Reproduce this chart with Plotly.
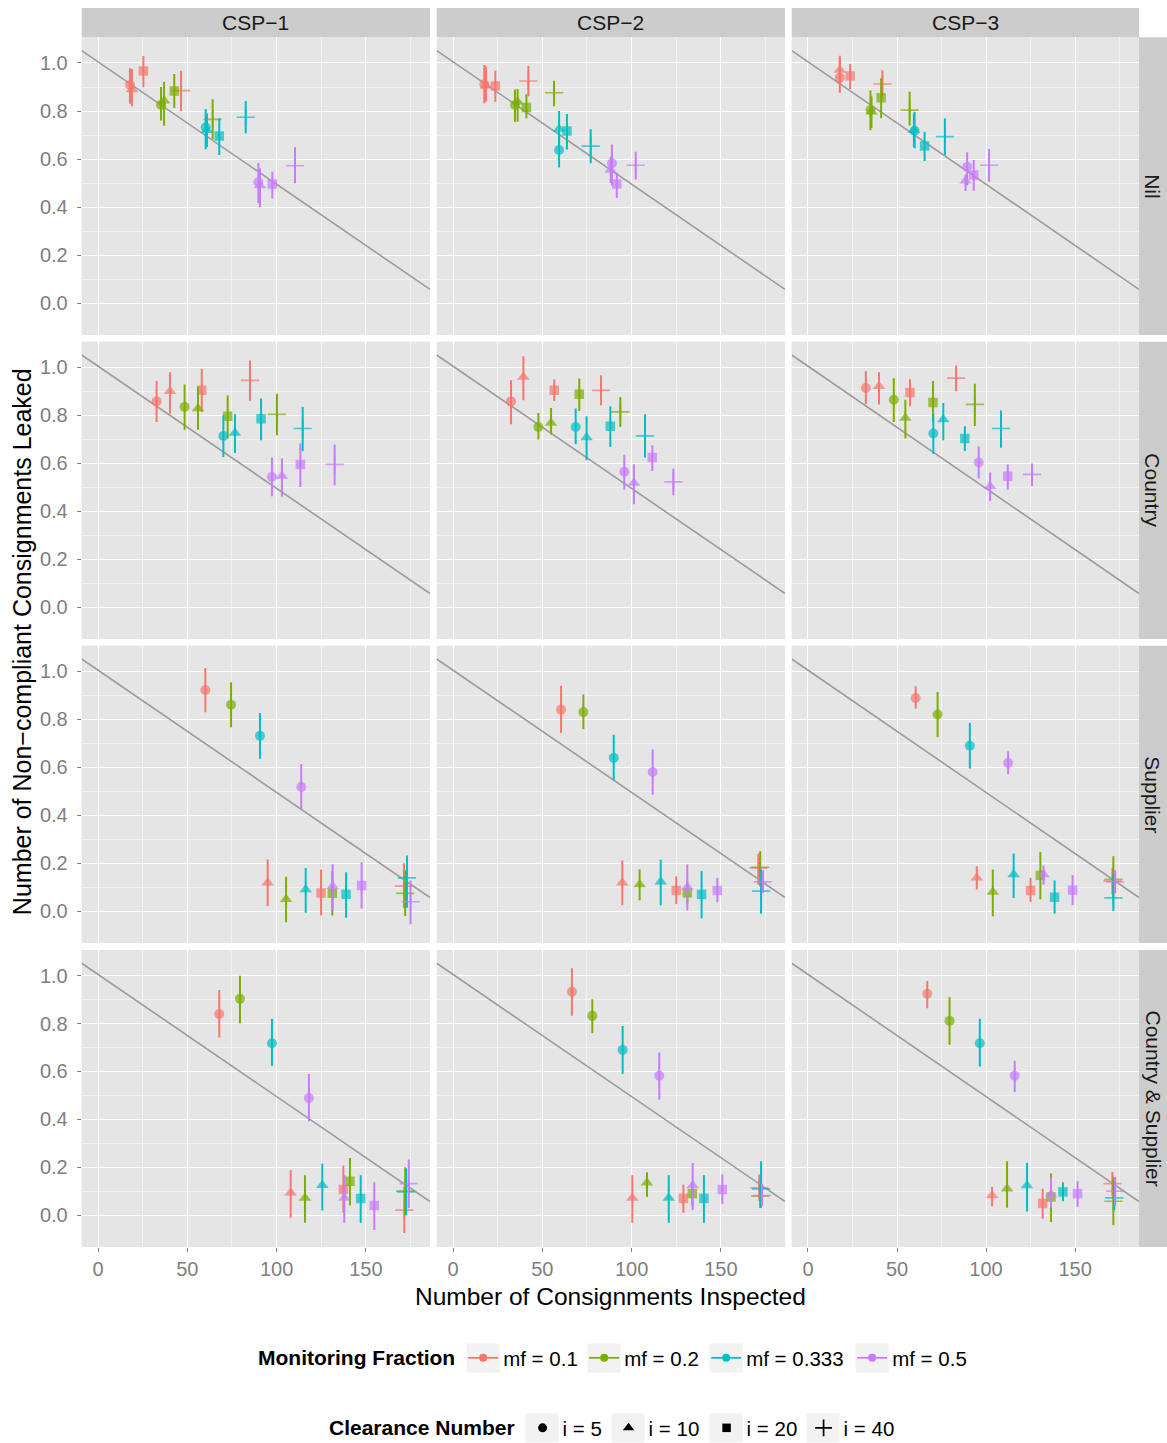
import plotly.graph_objects as go

W, H = 1167, 1443
FONT = "Liberation Sans, Arial, Helvetica, sans-serif"

# ---------------- labels / categories ----------------
CSP_LABELS = ["CSP\u22121", "CSP\u22122", "CSP\u22123"]
ROW_LABELS = ["Nil", "Country", "Supplier", "Country & Supplier"]
MF_LABELS = ["mf = 0.1", "mf = 0.2", "mf = 0.333", "mf = 0.5"]
I_LABELS = ["i = 5", "i = 10", "i = 20", "i = 40"]
MF_COLORS = ["#F8766D", "#7CAE00", "#00BFC4", "#C77CFF"]
I_SYMBOLS = ["circle", "triangle-up", "square", "cross-thin"]

X_TICKS = [0, 50, 100, 150]
X_MINOR = [25, 75, 125, 175]
Y_TICKS = [0.0, 0.2, 0.4, 0.6, 0.8, 1.0]
Y_TICK_TEXT = ["0.0", "0.2", "0.4", "0.6", "0.8", "1.0"]
Y_MINOR = [0.1, 0.3, 0.5, 0.7, 0.9]
X_RANGE = [-9.13, 185.9]
Y_RANGE = [-0.133, 1.107]

LINE_INTERCEPT = 1.005
LINE_SLOPE = -0.0051

# ---------------- data: order = mf(0.1,0.2,0.333,0.5) x i(5,10,20,40) ----------------
# Row "Nil"
nil_csp1_x = [17.9, 19.0, 25.4, 46.5, 35.3, 37.0, 42.7, 64.2, 60.3, 61.0, 67.9, 82.7, 89.8, 90.7, 97.6, 110.3]
nil_csp1_y = [0.908, 0.89, 0.967, 0.885, 0.825, 0.843, 0.883, 0.765, 0.732, 0.72, 0.696, 0.774, 0.503, 0.49, 0.496, 0.572]
nil_csp1_lo = [0.83, 0.82, 0.899, 0.80, 0.76, 0.739, 0.8125, 0.682, 0.641, 0.65, 0.617, 0.707, 0.417, 0.40, 0.436, 0.499]
nil_csp1_hi = [0.978, 0.975, 1.029, 0.968, 0.90, 0.922, 0.954, 0.849, 0.808, 0.79, 0.77, 0.842, 0.583, 0.56, 0.547, 0.649]

nil_csp2_x = [17.5, 18.5, 23.7, 42.2, 34.7, 36.2, 41.1, 56.6, 59.4, 59.4, 63.8, 77.1, 89.0, 88.3, 91.7, 102.3]
nil_csp2_y = [0.911, 0.905, 0.904, 0.925, 0.825, 0.839, 0.815, 0.876, 0.6375, 0.725, 0.717, 0.654, 0.582, 0.554, 0.496, 0.574]
nil_csp2_lo = [0.832, 0.84, 0.839, 0.86, 0.755, 0.755, 0.77, 0.82, 0.565, 0.658, 0.64, 0.582, 0.49, 0.50, 0.439, 0.515]
nil_csp2_hi = [0.992, 0.985, 0.968, 0.9875, 0.89, 0.892, 0.87, 0.926, 0.72, 0.80, 0.7875, 0.724, 0.66, 0.61, 0.543, 0.63]

nil_csp3_x = [17.9, 17.9, 23.7, 41.8, 35.1, 35.7, 41.1, 57.1, 59.9, 59.5, 65.5, 76.9, 89.4, 88.5, 93.1, 101.7]
nil_csp3_y = [0.939, 0.971, 0.946, 0.9125, 0.804, 0.797, 0.855, 0.804, 0.718, 0.72, 0.654, 0.693, 0.568, 0.51, 0.533, 0.574]
nil_csp3_lo = [0.876, 0.91, 0.892, 0.86, 0.72, 0.73, 0.77, 0.74, 0.645, 0.65, 0.592, 0.617, 0.49, 0.467, 0.468, 0.505]
nil_csp3_hi = [1.026, 1.03, 0.996, 0.97, 0.885, 0.86, 0.936, 0.88, 0.797, 0.79, 0.714, 0.77, 0.628, 0.535, 0.596, 0.642]

# Row "Country"
cty_csp1_x = [32.8, 40.3, 58.1, 85.1, 48.5, 56.0, 72.6, 100.2, 70.2, 76.7, 91.3, 114.6, 97.4, 103.0, 113.3, 132.5]
cty_csp1_y = [0.858, 0.90, 0.904, 0.946, 0.835, 0.828, 0.796, 0.804, 0.714, 0.726, 0.786, 0.745, 0.543, 0.547, 0.595, 0.595]
cty_csp1_lo = [0.772, 0.807, 0.814, 0.86, 0.74, 0.74, 0.703, 0.717, 0.626, 0.643, 0.696, 0.651, 0.4625, 0.46, 0.501, 0.508]
cty_csp1_hi = [0.943, 0.98, 0.994, 1.029, 0.928, 0.92, 0.883, 0.89, 0.80, 0.804, 0.87, 0.835, 0.624, 0.62, 0.682, 0.678]

cty_csp2_x = [32.5, 39.4, 56.7, 82.9, 47.8, 54.9, 70.7, 93.7, 68.7, 74.8, 88.1, 107.5, 95.9, 101.3, 111.6, 123.4]
cty_csp2_y = [0.858, 0.96, 0.904, 0.904, 0.751, 0.768, 0.8875, 0.814, 0.751, 0.707, 0.754, 0.714, 0.5646, 0.518, 0.624, 0.522]
cty_csp2_lo = [0.7625, 0.8625, 0.86, 0.842, 0.699, 0.72, 0.818, 0.751, 0.679, 0.6125, 0.668, 0.624, 0.49, 0.429, 0.568, 0.467]
cty_csp2_hi = [0.946, 1.046, 0.949, 0.967, 0.81, 0.83, 0.953, 0.876, 0.828, 0.796, 0.8375, 0.804, 0.636, 0.596, 0.675, 0.578]

cty_csp3_x = [32.5, 39.9, 57.3, 83.2, 48.2, 54.7, 70.2, 93.7, 70.4, 76.0, 88.1, 108.4, 95.9, 102.3, 112.2, 125.8]
cty_csp3_y = [0.914, 0.921, 0.895, 0.955, 0.865, 0.789, 0.853, 0.846, 0.724, 0.782, 0.703, 0.745, 0.603, 0.504, 0.546, 0.554]
cty_csp3_lo = [0.846, 0.845, 0.8375, 0.90, 0.772, 0.703, 0.772, 0.755, 0.64, 0.696, 0.651, 0.665, 0.536, 0.443, 0.49, 0.505]
cty_csp3_hi = [0.985, 0.98, 0.95, 1.008, 0.955, 0.865, 0.943, 0.932, 0.807, 0.851, 0.754, 0.82, 0.67, 0.561, 0.595, 0.599]

# Row "Supplier"
sup_csp1_x = [60.1, 95.0, 124.9, 171.3, 74.5, 105.3, 131.2, 172.0, 90.7, 116.3, 138.9, 173.0, 113.8, 131.4, 147.6, 175.0]
sup_csp1_y = [0.922, 0.118, 0.076, 0.104, 0.861, 0.049, 0.074, 0.074, 0.731, 0.09, 0.07, 0.139, 0.518, 0.104, 0.107, 0.039]
sup_csp1_lo = [0.829, 0.021, -0.018, 0.013, 0.767, -0.046, -0.018, -0.02, 0.636, -0.007, -0.028, 0.014, 0.426, 0.003, 0.011, -0.055]
sup_csp1_hi = [1.014, 0.215, 0.174, 0.20, 0.955, 0.143, 0.167, 0.17, 0.826, 0.18, 0.1625, 0.232, 0.614, 0.195, 0.204, 0.128]

sup_csp2_x = [60.5, 94.8, 125.0, 171.0, 73.0, 104.5, 131.2, 172.0, 90.0, 116.3, 139.2, 172.5, 111.8, 131.2, 148.0, 173.5]
sup_csp2_y = [0.84, 0.118, 0.086, 0.18, 0.83, 0.111, 0.076, 0.183, 0.639, 0.122, 0.07, 0.083, 0.58, 0.101, 0.086, 0.122]
sup_csp2_lo = [0.743, 0.025, 0.03, 0.11, 0.76, 0.045, 0.03, 0.104, 0.546, 0.024, -0.03, -0.011, 0.486, 0.003, 0.0375, 0.076]
sup_csp2_hi = [0.94, 0.211, 0.145, 0.24, 0.903, 0.174, 0.125, 0.25, 0.736, 0.214, 0.167, 0.174, 0.674, 0.195, 0.139, 0.17]

sup_csp3_x = [60.5, 94.8, 125.0, 171.0, 72.8, 103.8, 130.5, 171.5, 90.9, 115.5, 138.5, 171.5, 112.4, 132.3, 148.6, 172.5]
sup_csp3_y = [0.889, 0.139, 0.086, 0.125, 0.82, 0.08, 0.149, 0.132, 0.69, 0.153, 0.058, 0.055, 0.618, 0.153, 0.0875, 0.122]
sup_csp3_lo = [0.845, 0.09, 0.0375, 0.07, 0.726, -0.021, 0.049, 0.049, 0.595, 0.055, -0.011, 0.0, 0.572, 0.11, 0.025, 0.075]
sup_csp3_hi = [0.9375, 0.1875, 0.139, 0.18, 0.914, 0.174, 0.247, 0.229, 0.785, 0.24, 0.128, 0.153, 0.667, 0.19, 0.15, 0.17]

# Row "Country & Supplier"
cs_csp1_x = [67.9, 107.9, 137.4, 171.5, 79.5, 115.9, 141.1, 172.0, 97.4, 125.6, 147.1, 172.5, 118.1, 137.9, 154.7, 174.0]
cs_csp1_y = [0.84, 0.093, 0.107, 0.021, 0.903, 0.072, 0.142, 0.10, 0.718, 0.125, 0.07, 0.097, 0.489, 0.072, 0.04, 0.132]
cs_csp1_lo = [0.742, -0.011, 0.01, -0.075, 0.801, -0.032, 0.04, 0.0, 0.624, 0.0195, -0.032, 0.0, 0.392, -0.032, -0.0625, 0.03]
cs_csp1_hi = [0.94, 0.1875, 0.207, 0.12, 1.0, 0.167, 0.239, 0.20, 0.82, 0.215, 0.167, 0.195, 0.589, 0.167, 0.1375, 0.232]

cs_csp2_x = [66.6, 100.4, 129.0, 171.5, 78.0, 108.6, 134.0, 172.0, 95.0, 120.8, 140.5, 172.5, 115.5, 134.2, 150.8, 173.0]
cs_csp2_y = [0.933, 0.072, 0.07, 0.114, 0.832, 0.135, 0.09, 0.079, 0.69, 0.072, 0.07, 0.11, 0.582, 0.124, 0.107, 0.082]
cs_csp2_lo = [0.832, -0.032, 0.01, 0.06, 0.76, 0.076, 0.04, 0.03, 0.59, -0.032, -0.032, 0.031, 0.482, 0.021, 0.047, 0.04]
cs_csp2_hi = [1.031, 0.167, 0.128, 0.17, 0.901, 0.179, 0.14, 0.13, 0.79, 0.167, 0.167, 0.225, 0.679, 0.218, 0.17, 0.13]

cs_csp3_x = [67.0, 103.4, 131.8, 171.0, 79.5, 111.8, 136.5, 171.5, 96.5, 123.0, 143.2, 172.0, 116.1, 136.5, 151.4, 172.5]
cs_csp3_y = [0.924, 0.082, 0.049, 0.132, 0.811, 0.11, 0.076, 0.058, 0.718, 0.124, 0.097, 0.072, 0.582, 0.086, 0.09, 0.10]
cs_csp3_lo = [0.864, 0.0375, -0.015, 0.08, 0.711, 0.031, -0.029, -0.042, 0.621, 0.015, 0.058, 0.02, 0.514, 0.031, 0.035, 0.04]
cs_csp3_hi = [0.978, 0.117, 0.11, 0.18, 0.91, 0.225, 0.174, 0.158, 0.82, 0.218, 0.1375, 0.14, 0.645, 0.16, 0.142, 0.16]

PANELS = [
    [(nil_csp1_x, nil_csp1_y, nil_csp1_lo, nil_csp1_hi),
     (nil_csp2_x, nil_csp2_y, nil_csp2_lo, nil_csp2_hi),
     (nil_csp3_x, nil_csp3_y, nil_csp3_lo, nil_csp3_hi)],
    [(cty_csp1_x, cty_csp1_y, cty_csp1_lo, cty_csp1_hi),
     (cty_csp2_x, cty_csp2_y, cty_csp2_lo, cty_csp2_hi),
     (cty_csp3_x, cty_csp3_y, cty_csp3_lo, cty_csp3_hi)],
    [(sup_csp1_x, sup_csp1_y, sup_csp1_lo, sup_csp1_hi),
     (sup_csp2_x, sup_csp2_y, sup_csp2_lo, sup_csp2_hi),
     (sup_csp3_x, sup_csp3_y, sup_csp3_lo, sup_csp3_hi)],
    [(cs_csp1_x, cs_csp1_y, cs_csp1_lo, cs_csp1_hi),
     (cs_csp2_x, cs_csp2_y, cs_csp2_lo, cs_csp2_hi),
     (cs_csp3_x, cs_csp3_y, cs_csp3_lo, cs_csp3_hi)],
]

# ---------------- layout geometry (pixels) ----------------
COL_X = [(81.7, 430.0), (436.7, 785.0), (791.7, 1139.0)]
ROW_Y = [(37.3, 335.0), (341.7, 639.0), (645.7, 943.0), (950.0, 1247.0)]
STRIP_TOP = 8.0
STRIP_RIGHT = 1167.0

# legend geometry: first text start, per-entry widths, row centre
LEG1_X, LEG1_TEXT0, LEG1_WIDTHS, LEG1_Y = 256, 503, [76, 77, 101, 75], 1358
LEG2_X, LEG2_TEXT0, LEG2_WIDTHS, LEG2_Y = 327, 562, [41, 53, 52, 51], 1428
KEY_W, KEY_H = 34, 30

def px(x):
    return x / W

def py(y):
    return 1 - y / H

SYMBOL_SIZES = [10, 11, 9.5, 13]
SYMBOL_LINE = [0, 0, 0, 1.7]

fig = go.Figure()
layout_axes = {}
shapes = []
annotations = []

for r in range(4):
    for c in range(3):
        k = r * 3 + c + 1
        xa = "x" if k == 1 else f"x{k}"
        ya = "y" if k == 1 else f"y{k}"
        xs, ys, los, his = PANELS[r][c]

        # reference line
        fig.add_trace(go.Scatter(
            x=X_RANGE,
            y=[LINE_INTERCEPT + LINE_SLOPE * v for v in X_RANGE],
            mode="lines", line=dict(color="#9C9C9C", width=1.6),
            xaxis=xa, yaxis=ya, showlegend=False, hoverinfo="skip"))

        for m in range(4):
            sl = slice(m * 4, m * 4 + 4)
            xm, ym, lm, hm = xs[sl], ys[sl], los[sl], his[sl]
            fig.add_trace(go.Scatter(
                x=xm, y=ym, mode="markers",
                marker=dict(color=MF_COLORS[m], symbol=I_SYMBOLS,
                            size=SYMBOL_SIZES,
                            line=dict(color=MF_COLORS[m], width=SYMBOL_LINE)),
                error_y=dict(type="data", symmetric=False,
                             array=[h - v for h, v in zip(hm, ym)],
                             arrayminus=[v - l for v, l in zip(ym, lm)],
                             width=0, thickness=2.0, color=MF_COLORS[m]),
                xaxis=xa, yaxis=ya, showlegend=False,
                name=f"{MF_LABELS[m]} ({CSP_LABELS[c]}, {ROW_LABELS[r]})"))

        x0, x1 = COL_X[c]
        y0, y1 = ROW_Y[r]
        bottom = r == 3
        left = c == 0
        layout_axes["xaxis" if k == 1 else f"xaxis{k}"] = dict(
            domain=[px(x0), px(x1)], anchor=ya, range=X_RANGE,
            tickmode="array", tickvals=X_TICKS,
            showticklabels=bottom, ticks="outside" if bottom else "",
            ticklen=4, tickwidth=1, tickcolor="#7F7F7F", ticklabelstandoff=0,
            tickfont=dict(family=FONT, size=20, color="#7F7F7F"),
            showgrid=True, gridcolor="#FFFFFF", gridwidth=1.3,
            minor=dict(tickmode="array", tickvals=X_MINOR, showgrid=True,
                       gridcolor="#F2F2F2", gridwidth=0.7, ticks=""),
            zeroline=False, showline=False, fixedrange=True)
        layout_axes["yaxis" if k == 1 else f"yaxis{k}"] = dict(
            domain=[py(y1), py(y0)], anchor=xa, range=Y_RANGE,
            tickmode="array", tickvals=Y_TICKS, ticktext=Y_TICK_TEXT,
            showticklabels=left, ticks="outside" if left else "",
            ticklen=4, tickwidth=1, tickcolor="#7F7F7F", ticklabelstandoff=5,
            tickfont=dict(family=FONT, size=20, color="#7F7F7F"),
            showgrid=True, gridcolor="#FFFFFF", gridwidth=1.3,
            minor=dict(tickmode="array", tickvals=Y_MINOR, showgrid=True,
                       gridcolor="#F2F2F2", gridwidth=0.7, ticks=""),
            zeroline=False, showline=False, fixedrange=True)

# strips (top)
for c in range(3):
    x0, x1 = COL_X[c]
    shapes.append(dict(type="rect", xref="paper", yref="paper",
                       x0=px(x0), x1=px(x1), y0=py(ROW_Y[0][0]), y1=py(STRIP_TOP),
                       fillcolor="#CCCCCC", line=dict(width=0), layer="below"))
    annotations.append(dict(text=CSP_LABELS[c], xref="paper", yref="paper",
                            x=px((x0 + x1) / 2), y=py((STRIP_TOP + ROW_Y[0][0]) / 2),
                            xanchor="center", yanchor="middle", showarrow=False,
                            font=dict(family=FONT, size=21, color="#1A1A1A")))
# strips (right)
for r in range(4):
    y0, y1 = ROW_Y[r]
    shapes.append(dict(type="rect", xref="paper", yref="paper",
                       x0=px(COL_X[2][1]), x1=px(STRIP_RIGHT), y0=py(y1), y1=py(y0),
                       fillcolor="#CCCCCC", line=dict(width=0), layer="below"))
    annotations.append(dict(text=ROW_LABELS[r], xref="paper", yref="paper",
                            x=px((COL_X[2][1] + STRIP_RIGHT) / 2), y=py((y0 + y1) / 2),
                            xanchor="center", yanchor="middle", showarrow=False,
                            textangle=90,
                            font=dict(family=FONT, size=21, color="#1A1A1A")))

# axis titles
annotations.append(dict(text="Number of Consignments Inspected", xref="paper", yref="paper",
                        x=px((COL_X[0][0] + COL_X[2][1]) / 2), y=py(1296),
                        xanchor="center", yanchor="middle", showarrow=False, borderpad=0,
                        font=dict(family=FONT, size=24.5, color="#000000")))
annotations.append(dict(text="Number of Non\u2212compliant Consignments Leaked",
                        xref="paper", yref="paper",
                        x=px(22), y=py((ROW_Y[0][0] + ROW_Y[3][1]) / 2),
                        xanchor="center", yanchor="middle", showarrow=False,
                        textangle=-90,
                        font=dict(family=FONT, size=25, color="#000000")))

# legend key backgrounds (grey95 boxes with white border, as in ggplot keys)
def key_boxes(text0, widths, yc):
    start = text0
    for w in widths:
        cx = start - 20
        shapes.append(dict(type="rect", xref="paper", yref="paper",
                           x0=px(cx - KEY_W / 2), x1=px(cx + KEY_W / 2),
                           y0=py(yc + KEY_H / 2), y1=py(yc - KEY_H / 2),
                           fillcolor="#F2F2F2", line=dict(color="#FFFFFF", width=1),
                           layer="below"))
        start += w + 45

key_boxes(LEG1_TEXT0, LEG1_WIDTHS, LEG1_Y)
key_boxes(LEG2_TEXT0, LEG2_WIDTHS, LEG2_Y)

# legend entries
for m in range(4):
    fig.add_trace(go.Scatter(
        x=[None], y=[None], mode="lines+markers", name=MF_LABELS[m],
        line=dict(color=MF_COLORS[m], width=1.8),
        marker=dict(color=MF_COLORS[m], symbol="circle", size=8),
        legend="legend", legendwidth=LEG1_WIDTHS[m], showlegend=True))
for j in range(4):
    fig.add_trace(go.Scatter(
        x=[None], y=[None], mode="markers", name=I_LABELS[j],
        marker=dict(color="#000000", symbol=I_SYMBOLS[j], size=SYMBOL_SIZES[j] - 1,
                    line=dict(color="#000000", width=SYMBOL_LINE[j])),
        legend="legend2", legendwidth=LEG2_WIDTHS[j], showlegend=True))

fig.update_layout(
    width=W, height=H,
    margin=dict(l=0, r=0, t=0, b=0, autoexpand=False),
    paper_bgcolor="#FFFFFF", plot_bgcolor="#E5E5E5",
    font=dict(family=FONT, size=20, color="#000000"),
    shapes=shapes, annotations=annotations,
    legend=dict(orientation="h", x=px(LEG1_X), y=py(LEG1_Y), xanchor="left", yanchor="middle",
                title=dict(text="<b>Monitoring Fraction</b>", side="left",
                           font=dict(family=FONT, size=21, color="#000000")),
                font=dict(family=FONT, size=20.5, color="#000000"),
                bgcolor="rgba(0,0,0,0)", itemsizing="trace"),
    legend2=dict(orientation="h", x=px(LEG2_X), y=py(LEG2_Y), xanchor="left", yanchor="middle",
                 title=dict(text="<b>Clearance Number</b>", side="left",
                            font=dict(family=FONT, size=21, color="#000000")),
                 font=dict(family=FONT, size=20.5, color="#000000"),
                 bgcolor="rgba(0,0,0,0)", itemsizing="trace"),
    **layout_axes,
)

fig.write_html("out.html")
